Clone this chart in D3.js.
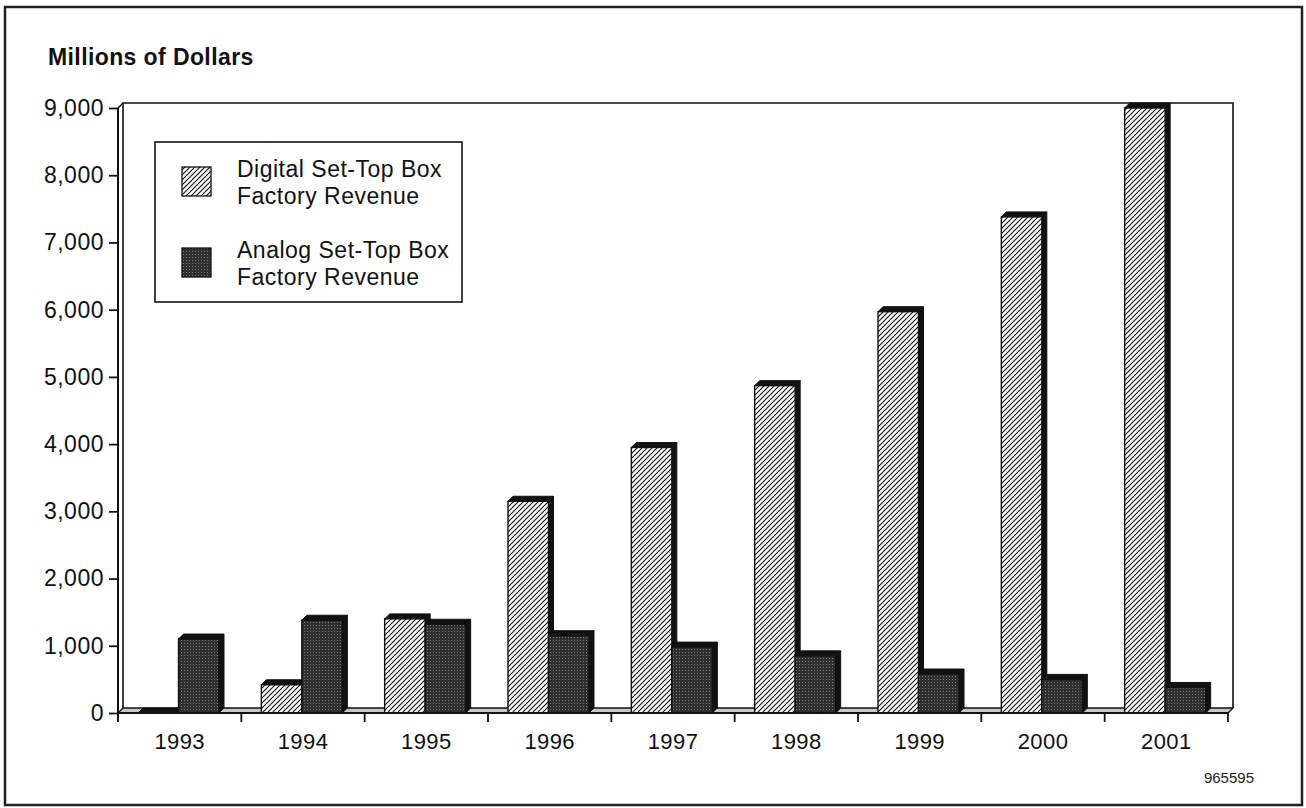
<!DOCTYPE html>
<html>
<head>
<meta charset="utf-8">
<script src="https://cdn.jsdelivr.net/npm/d3@7"></script>
<style>
  html, body { margin: 0; padding: 0; background: #fff; }
  svg { display: block; font-family: "Liberation Sans", Arial, Helvetica, sans-serif; }
</style>
</head>
<body>
<svg id="chart" width="1306" height="808"></svg>
<script>
// Set-top box factory revenue, millions of dollars
const years = ["1993", "1994", "1995", "1996", "1997", "1998", "1999", "2000", "2001"];
const digitalRevenue = [0, 420, 1400, 3150, 3950, 4870, 5970, 7380, 9000];
const analogRevenue = [1100, 1380, 1320, 1150, 980, 850, 580, 500, 380];
const yTicks = [0, 1000, 2000, 3000, 4000, 5000, 6000, 7000, 8000, 9000];

(function () {
const svg = d3.select("#chart");
const FONT = "'Liberation Sans', Arial, Helvetica, sans-serif";

// plot geometry
const plotLeft = 118, plotRight = 1228, plotTop = 108, plotBottom = 713;
const depth = { dx: 5, dy: -5 };   // 3-D extrusion offset

const x0 = d3.scaleBand().domain(years).range([plotLeft, plotRight]);
const x1 = d3.scaleBand().domain(["digital", "analog"]).range([20, 101]);
const y = d3.scaleLinear().domain([0, 9000]).range([plotBottom, plotTop]);

// fill patterns
const defs = svg.append("defs");
const hatch = defs.append("pattern")
  .attr("id", "hatch").attr("patternUnits", "userSpaceOnUse")
  .attr("width", 5).attr("height", 5);
hatch.append("rect").attr("width", 5).attr("height", 5).attr("fill", "#fff");
hatch.append("path")
  .attr("d", "M-1,1 l2,-2 M0,5 l5,-5 M4,6 l2,-2")
  .attr("stroke", "#111").attr("stroke-width", 1.1);

const dots = defs.append("pattern")
  .attr("id", "dots").attr("patternUnits", "userSpaceOnUse")
  .attr("width", 3).attr("height", 3);
dots.append("rect").attr("width", 3).attr("height", 3).attr("fill", "#2f2f2f");
dots.append("rect").attr("x", 1).attr("y", 1).attr("width", 1).attr("height", 1).attr("fill", "#7c7c7c");

// outer frame
svg.append("rect")
  .attr("x", 5).attr("y", 7).attr("width", 1297).attr("height", 798)
  .attr("fill", "none").attr("stroke", "#222").attr("stroke-width", 2.5);

// title
svg.append("text")
  .attr("x", 48).attr("y", 65)
  .attr("font-size", 23).attr("font-weight", "bold").attr("letter-spacing", 0.4)
  .attr("fill", "#111")
  .text("Millions of Dollars");

// back wall
const wall = svg.append("g");
wall.append("path")
  .attr("d", `M${plotLeft + depth.dx},${plotBottom + depth.dy} V${plotTop + depth.dy} H${plotRight + depth.dx} V${plotBottom + depth.dy}`)
  .attr("fill", "#fff").attr("stroke", "#111").attr("stroke-width", 1.6);
wall.append("line")
  .attr("x1", plotLeft).attr("y1", plotTop).attr("x2", plotLeft + depth.dx).attr("y2", plotTop + depth.dy)
  .attr("stroke", "#111").attr("stroke-width", 1.4);

// floor strip
svg.append("path")
  .attr("d", `M${plotLeft},${plotBottom} L${plotLeft + depth.dx},${plotBottom + depth.dy} H${plotRight + depth.dx} L${plotRight},${plotBottom} Z`)
  .attr("fill", "#c8c8c8").attr("stroke", "#111").attr("stroke-width", 1.3);

// bars
const rows = years.map((yr, i) => ({ year: yr, digital: digitalRevenue[i], analog: analogRevenue[i] }));
const bw = x1.bandwidth();

function drawBar(g, x, v, fillId) {
  const yt = y(v);
  // right side face
  g.append("path")
    .attr("d", `M${x + bw},${plotBottom} L${x + bw + depth.dx},${plotBottom + depth.dy} V${yt + depth.dy} L${x + bw},${yt} Z`)
    .attr("fill", "#111").attr("stroke", "#111").attr("stroke-width", 1);
  // top face
  g.append("path")
    .attr("d", `M${x},${yt} L${x + depth.dx},${yt + depth.dy} H${x + bw + depth.dx} L${x + bw},${yt} Z`)
    .attr("fill", "#111").attr("stroke", "#111").attr("stroke-width", 1);
  // front face
  if (plotBottom - yt > 0.5) {
    g.append("rect")
      .attr("x", x).attr("y", yt).attr("width", bw).attr("height", plotBottom - yt)
      .attr("fill", `url(#${fillId})`).attr("stroke", "#111").attr("stroke-width", 1.4);
  }
}

const barsG = svg.append("g");
rows.forEach(d => {
  const g = barsG.append("g");
  drawBar(g, x0(d.year) + x1("digital"), d.digital, "hatch");
  drawBar(g, x0(d.year) + x1("analog"), d.analog, "dots");
});

// front baseline
svg.append("line")
  .attr("x1", plotLeft).attr("x2", plotRight).attr("y1", plotBottom).attr("y2", plotBottom)
  .attr("stroke", "#111").attr("stroke-width", 1.8);

// y axis
const yAxis = d3.axisLeft(y)
  .tickValues(yTicks)
  .tickFormat(d3.format(","))
  .tickSize(9).tickPadding(5);
const yg = svg.append("g").attr("transform", `translate(${plotLeft},0)`).call(yAxis);
yg.select(".domain").remove();
yg.selectAll(".tick line").attr("stroke", "#111").attr("stroke-width", 1.8);
yg.selectAll(".tick text")
  .attr("font-size", 23).attr("letter-spacing", 0.5).attr("fill", "#111")
  .attr("font-family", FONT);
svg.append("line")
  .attr("x1", plotLeft).attr("x2", plotLeft).attr("y1", plotTop).attr("y2", plotBottom + 9)
  .attr("stroke", "#111").attr("stroke-width", 2);

// x axis: tick marks at category boundaries, labels centred
const boundaries = years.map(yr => x0(yr) + x0.bandwidth()).concat([plotLeft]);
svg.append("g").selectAll("line")
  .data(boundaries).join("line")
  .attr("x1", d => d).attr("x2", d => d)
  .attr("y1", plotBottom).attr("y2", plotBottom + 9)
  .attr("stroke", "#111").attr("stroke-width", 1.8);

const xAxis = d3.axisBottom(x0).tickSize(0);
const xg = svg.append("g").attr("transform", `translate(0,${plotBottom})`).call(xAxis);
xg.select(".domain").remove();
xg.selectAll(".tick text")
  .attr("y", 36).attr("dy", 0)
  .attr("font-size", 22).attr("letter-spacing", 0.4).attr("fill", "#111")
  .attr("font-family", FONT);

// legend
const legend = svg.append("g").attr("transform", "translate(155,142)");
legend.append("rect")
  .attr("width", 307).attr("height", 160)
  .attr("fill", "#fff").attr("stroke", "#111").attr("stroke-width", 1.6);
const legendItems = [
  { fill: "hatch", lines: ["Digital Set-Top Box", "Factory Revenue"], sy: 25, ty: 35 },
  { fill: "dots", lines: ["Analog Set-Top Box", "Factory Revenue"], sy: 106, ty: 116 }
];
legendItems.forEach(it => {
  legend.append("rect")
    .attr("x", 27).attr("y", it.sy).attr("width", 29).attr("height", 29)
    .attr("fill", `url(#${it.fill})`).attr("stroke", "#111").attr("stroke-width", 1.3);
  const t = legend.append("text").attr("x", 82).attr("y", it.ty)
    .attr("font-size", 23).attr("letter-spacing", 0.5).attr("fill", "#111");
  it.lines.forEach((ln, k) => {
    t.append("tspan").attr("x", 82).attr("dy", k === 0 ? 0 : 27).text(ln);
  });
});

// figure number
svg.append("text")
  .attr("x", 1254).attr("y", 783).attr("text-anchor", "end")
  .attr("font-size", 15).attr("fill", "#222")
  .text("965595");
})();
</script>
</body>
</html>
